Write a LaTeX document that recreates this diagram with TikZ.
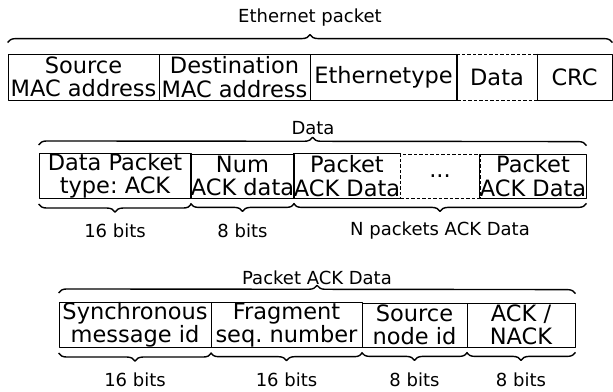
\documentclass[tikz,border=0pt]{standalone}
\usepackage{fontspec}
\setmainfont{DejaVu Sans}
\frenchspacing
\usetikzlibrary{decorations.pathreplacing}
\tikzset{
  field/.style={draw,line width=0.8bp,inner sep=0pt,align=center,
    font=\fontsize{22.5bp}{23.5bp}\selectfont},
  openfield/.style={field,draw=none},
  dashfield/.style={field,dash pattern=on 3.5bp off 2bp},
  bracetop/.style={decorate,line width=1.4bp,decoration={brace,amplitude=8bp}},
  bracebot/.style={decorate,line width=1.4bp,decoration={brace,amplitude=8bp,mirror}},
  caption/.style={inner sep=0pt,font=\fontsize{18bp}{20bp}\selectfont},
}
\begin{document}
\begin{tikzpicture}[line join=bevel]
  \useasboundingbox (0bp,0bp) rectangle (613bp,392bp);
%%
  % Row: Ethernet packet
  \node[field,minimum width=151bp,minimum height=46bp] (src) at (83.5bp,315bp) {Source\\MAC address};
  \node[field,minimum width=151bp,minimum height=46bp] (dst) at (234.5bp,315bp) {Destination\\MAC address};
  \node[field,minimum width=147bp,minimum height=46bp] (etype) at (383.5bp,315bp) {Ethernetype};
  \node[dashfield,minimum width=80bp,minimum height=46bp] (edata) at (497bp,315bp) {Data};
  \node[field,minimum width=75bp,minimum height=46bp] (crc) at (574.5bp,315bp) {CRC};
  \draw[line width=0.8bp] (edata.north west) -- (edata.south west);
  \draw[line width=0.8bp] (edata.north east) -- (edata.south east);
  \draw[bracetop] ([yshift=11bp]src.north west) -- ([yshift=11bp]crc.north east);
  \node[caption] (ethtitle) at (310bp,374bp) {Ethernet packet};
  % Row: Data
  \node[field,minimum width=152bp,minimum height=44bp] (ptype) at (115bp,216bp) {Data Packet\\type: ACK};
  \node[field,minimum width=103bp,minimum height=44bp] (numack) at (242.5bp,216bp) {Num\\ACK data};
  \node[openfield,minimum width=106bp,minimum height=44bp] (pkfirst) at (347bp,216bp) {Packet\\ACK Data};
  \node[dashfield,minimum width=80bp,minimum height=44bp] (pkdots) at (440bp,216bp) {...};
  \node[field,minimum width=106bp,minimum height=44bp] (pklast) at (533bp,216bp) {Packet\\ACK Data};
  \draw[line width=0.8bp] (pkfirst.north east) -- (pkfirst.north west) -- (pkfirst.south west) -- (pkfirst.south east);
  \draw[bracetop] ([yshift=8bp]ptype.north west) -- ([yshift=8bp]pklast.north east);
  \node[caption] (datatitle) at (313bp,264bp) {Data};
  \draw[bracebot] ([yshift=-5bp]ptype.south west) -- ([yshift=-5bp]ptype.south east);
  \draw[bracebot] ([yshift=-5bp]numack.south west) -- ([yshift=-5bp]numack.south east);
  \draw[bracebot] ([yshift=-5bp]pkfirst.south west) -- ([yshift=-5bp]pklast.south east);
  \node[caption] (ptypebits) at (115bp,161bp) {16 bits};
  \node[caption] (numackbits) at (242.5bp,161bp) {8 bits};
  \node[caption] (pkbits) at (440bp,161bp) {N packets ACK Data};
  % Row: Packet ACK Data
  \node[field,minimum width=152bp,minimum height=44bp] (syncid) at (135bp,67bp) {Synchronous\\message id};
  \node[field,minimum width=151bp,minimum height=44bp] (fragseq) at (286.5bp,67bp) {Fragment\\seq. number};
  \node[field,minimum width=105bp,minimum height=44bp] (srcnode) at (414.5bp,67bp) {Source\\node id};
  \node[field,minimum width=108bp,minimum height=44bp] (acknack) at (521bp,67bp) {ACK /\\NACK};
  \draw[bracetop] ([yshift=9bp]syncid.north west) -- ([yshift=9bp]acknack.north east);
  \node[caption] (acktitle) at (317bp,114bp) {Packet ACK Data};
  \draw[bracebot] ([yshift=-5bp]syncid.south west) -- ([yshift=-5bp]syncid.south east);
  \draw[bracebot] ([yshift=-5bp]fragseq.south west) -- ([yshift=-5bp]fragseq.south east);
  \draw[bracebot] ([yshift=-5bp]srcnode.south west) -- ([yshift=-5bp]srcnode.south east);
  \draw[bracebot] ([yshift=-5bp]acknack.south west) -- ([yshift=-5bp]acknack.south east);
  \node[caption] (syncbits) at (135bp,12bp) {16 bits};
  \node[caption] (fragbits) at (286.5bp,12bp) {16 bits};
  \node[caption] (srcbits) at (414.5bp,12bp) {8 bits};
  \node[caption] (ackbits) at (521bp,12bp) {8 bits};
%
\end{tikzpicture}
\end{document}
